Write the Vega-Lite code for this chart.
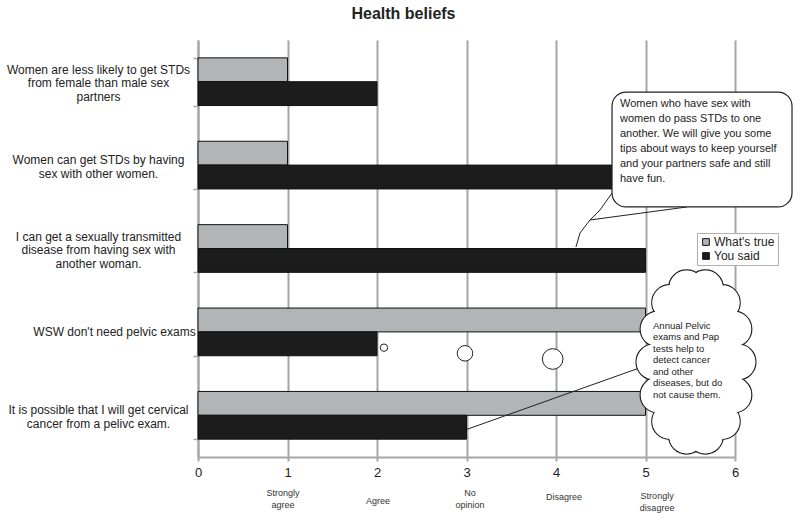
{
  "$schema": "https://vega.github.io/schema/vega-lite/v6.json",
  "width": 537,
  "height": 417,
  "autosize": {"type": "none"},
  "padding": {"left": 198, "top": 40, "right": 65, "bottom": 63},
  "title": {"text": "Health beliefs", "fontSize": 16, "font": "Liberation Sans", "fontWeight": "bold", "color": "#222", "anchor": "middle", "frame": "group", "dx": -63, "offset": 12},
  "config": {"view": {"stroke": null}, "font": "Liberation Sans"},
  "datasets": {
    "beliefs": [
      {"statement": "Women are less likely to get STDs\nfrom female than male sex\npartners", "series": "What's true", "value": 1},
      {"statement": "Women are less likely to get STDs\nfrom female than male sex\npartners", "series": "You said", "value": 2},
      {"statement": "Women can get STDs by having\nsex with other women.", "series": "What's true", "value": 1},
      {"statement": "Women can get STDs by having\nsex with other women.", "series": "You said", "value": 5},
      {"statement": "I can get a sexually transmitted\ndisease from having sex with\nanother woman.", "series": "What's true", "value": 1},
      {"statement": "I can get a sexually transmitted\ndisease from having sex with\nanother woman.", "series": "You said", "value": 5},
      {"statement": "WSW don't need pelvic exams", "series": "What's true", "value": 5},
      {"statement": "WSW don't need pelvic exams", "series": "You said", "value": 2},
      {"statement": "It is possible that I will get cervical\ncancer from a pelivc exam.", "series": "What's true", "value": 5},
      {"statement": "It is possible that I will get cervical\ncancer from a pelivc exam.", "series": "You said", "value": 3}
    ],
    "thought": [
      {"x": 2.078, "y": 1.311, "rank": 1},
      {"x": 2.983, "y": 1.243, "rank": 2},
      {"x": 3.963, "y": 1.175, "rank": 3}
    ],
    "pointer": [
      {"x": 3.006, "y": 0.332, "ord": 1},
      {"x": 4.994, "y": 1.091, "ord": 2}
    ],
    "lobes": [
      {"x": 6.033, "y": 1.139}, {"x": 5.987, "y": 1.534}, {"x": 5.857, "y": 1.851},
      {"x": 5.669, "y": 2.027}, {"x": 5.459, "y": 2.027}, {"x": 5.271, "y": 1.851},
      {"x": 5.141, "y": 1.534}, {"x": 5.095, "y": 1.139}, {"x": 5.141, "y": 0.744},
      {"x": 5.271, "y": 0.427}, {"x": 5.459, "y": 0.251}, {"x": 5.669, "y": 0.251},
      {"x": 5.857, "y": 0.427}, {"x": 5.987, "y": 0.744}
    ],
    "cloudCore": [{"x": 5.14, "x2": 5.989, "y": 1.93, "y2": 0.348}],
    "cloudText": [{"x": 5.084, "y": 1.631, "text": " Annual Pelvic\nexams and Pap\ntests help to\ndetect cancer\nand other\ndiseases, but do\nnot cause them."}],
    "tail": [
      {"part": "a", "ord": 1, "x": 4.626, "y": 3.165},
      {"part": "a", "ord": 2, "x": 4.492, "y": 2.962},
      {"part": "a", "ord": 3, "x": 4.38, "y": 2.842},
      {"part": "a", "ord": 4, "x": 5.464, "y": 2.998},
      {"part": "b", "ord": 1, "x": 4.38, "y": 2.842},
      {"part": "b", "ord": 2, "x": 4.268, "y": 2.686},
      {"part": "b", "ord": 3, "x": 4.223, "y": 2.518}
    ],
    "bubble": [{"x": 4.626, "x2": 6.637, "y": 4.376, "y2": 2.998}],
    "bubbleText": [{"x": 4.715, "y": 4.305, "text": " Women who have sex with\nwomen do pass STDs to one\nanother.   We will give you some\ntips about ways to keep yourself\nand your partners safe and still\nhave fun."}],
    "scaleLabels": [
      {"label": "Strongly\nagree", "x": 0.95, "y": -0.432},
      {"label": "Agree", "x": 2.01, "y": -0.528},
      {"label": "No\nopinion", "x": 3.04, "y": -0.432},
      {"label": "Disagree", "x": 4.09, "y": -0.48},
      {"label": "Strongly\ndisagree", "x": 5.13, "y": -0.47}
    ]
  },
  "layer": [
    {
      "data": {"name": "beliefs"},
      "mark": {"type": "bar", "stroke": "#111", "strokeWidth": 1},
      "encoding": {
        "y": {
          "field": "statement", "type": "nominal", "sort": null,
          "scale": {"paddingInner": 0.428, "paddingOuter": 0.214},
          "axis": {
            "title": null, "labelExpr": "split(datum.label, '\\n')", "labelAlign": "center",
            "labelPadding": {"condition": {"test": "indexof(datum.label, 'WSW') == 0", "value": 79}, "value": 95},
            "labelFontSize": 12, "labelColor": "#222", "labelLineHeight": 13.5,
            "labelOffset": {"condition": [
              {"test": "indexof(datum.label, '\\n') < 0", "value": 0},
              {"test": "length(split(datum.label, '\\n')) == 3", "value": -12.5}
            ], "value": -5.5},
            "tickBand": "extent", "tickSize": 5, "tickColor": "#a6a6a6", "tickWidth": 1.5,
            "domainColor": "#a6a6a6", "domainWidth": 2, "grid": false, "labelLimit": 0
          }
        },
        "yOffset": {"field": "series", "type": "nominal", "sort": ["What's true", "You said"]},
        "x": {
          "field": "value", "type": "quantitative",
          "scale": {"domain": [0, 6], "nice": false},
          "axis": {
            "title": null, "values": [0, 1, 2, 3, 4, 5, 6], "grid": true, "gridColor": "#a6a6a6", "gridWidth": 2,
            "domainColor": "#a6a6a6", "domainWidth": 2, "tickColor": "#a6a6a6", "tickWidth": 2, "tickSize": 4,
            "labelFontSize": 13, "labelColor": "#222", "labelPadding": 5, "labelFlush": false
          }
        },
        "color": {
          "field": "series", "type": "nominal",
          "scale": {"domain": ["What's true", "You said"], "range": ["#b3b4b6", "#1c1c1c"]},
          "legend": {
            "orient": "none", "legendX": 499, "legendY": 193, "title": null,
            "symbolType": "square", "symbolSize": 45, "symbolStrokeColor": "#111", "symbolStrokeWidth": 1,
            "labelFontSize": 12, "labelColor": "#222", "strokeColor": "#b0b0b0", "fillColor": "white",
            "padding": 3, "rowPadding": 2, "labelOffset": 2
          }
        }
      }
    },
    {
      "data": {"name": "thought"},
      "mark": {"type": "point", "shape": "circle", "filled": true, "fill": "white", "stroke": "#222", "strokeWidth": 1, "opacity": 1},
      "encoding": {
        "x": {"field": "x", "type": "quantitative", "scale": {"domain": [0, 6], "nice": false}, "axis": null},
        "y": {"field": "y", "type": "quantitative", "scale": {"domain": [0, 5], "nice": false, "zero": false}, "axis": null},
        "size": {"field": "rank", "type": "quantitative", "scale": {"domain": [1, 3], "range": [55, 427]}, "legend": null}
      }
    },
    {
      "data": {"name": "pointer"},
      "mark": {"type": "line", "color": "#222", "strokeWidth": 1},
      "encoding": {
        "x": {"field": "x", "type": "quantitative", "scale": {"domain": [0, 6], "nice": false}, "axis": null},
        "y": {"field": "y", "type": "quantitative", "scale": {"domain": [0, 5], "nice": false, "zero": false}, "axis": null},
        "order": {"field": "ord"}
      }
    },
    {
      "data": {"name": "lobes"},
      "mark": {"type": "point", "shape": "circle", "filled": true, "fill": "white", "stroke": "#222", "strokeWidth": 1.2, "size": 1296, "opacity": 1},
      "encoding": {
        "x": {"field": "x", "type": "quantitative", "scale": {"domain": [0, 6], "nice": false}, "axis": null},
        "y": {"field": "y", "type": "quantitative", "scale": {"domain": [0, 5], "nice": false, "zero": false}, "axis": null}
      }
    },
    {
      "data": {"name": "lobes"},
      "mark": {"type": "point", "shape": "circle", "filled": true, "fill": "white", "strokeWidth": 0, "size": 1190, "opacity": 1},
      "encoding": {
        "x": {"field": "x", "type": "quantitative", "scale": {"domain": [0, 6], "nice": false}, "axis": null},
        "y": {"field": "y", "type": "quantitative", "scale": {"domain": [0, 5], "nice": false, "zero": false}, "axis": null}
      }
    },
    {
      "data": {"name": "cloudCore"},
      "mark": {"type": "rect", "fill": "white"},
      "encoding": {
        "x": {"field": "x", "type": "quantitative", "scale": {"domain": [0, 6], "nice": false}, "axis": null},
        "x2": {"field": "x2"},
        "y": {"field": "y", "type": "quantitative", "scale": {"domain": [0, 5], "nice": false, "zero": false}, "axis": null},
        "y2": {"field": "y2"}
      }
    },
    {
      "data": {"name": "cloudText"},
      "mark": {"type": "text", "align": "left", "baseline": "top", "lineBreak": "\n", "fontSize": 9.5, "lineHeight": 11.5, "color": "#222", "font": "Liberation Sans"},
      "encoding": {
        "x": {"field": "x", "type": "quantitative", "scale": {"domain": [0, 6], "nice": false}, "axis": null},
        "y": {"field": "y", "type": "quantitative", "scale": {"domain": [0, 5], "nice": false, "zero": false}, "axis": null},
        "text": {"field": "text"}
      }
    },
    {
      "data": {"name": "tail"},
      "mark": {"type": "line", "color": "#222", "strokeWidth": 1},
      "encoding": {
        "x": {"field": "x", "type": "quantitative", "scale": {"domain": [0, 6], "nice": false}, "axis": null},
        "y": {"field": "y", "type": "quantitative", "scale": {"domain": [0, 5], "nice": false, "zero": false}, "axis": null},
        "detail": {"field": "part"},
        "order": {"field": "ord"}
      }
    },
    {
      "data": {"name": "bubble"},
      "mark": {"type": "rect", "fill": "white", "stroke": "#222", "strokeWidth": 1.2, "cornerRadius": 14},
      "encoding": {
        "x": {"field": "x", "type": "quantitative", "scale": {"domain": [0, 6], "nice": false}, "axis": null},
        "x2": {"field": "x2"},
        "y": {"field": "y", "type": "quantitative", "scale": {"domain": [0, 5], "nice": false, "zero": false}, "axis": null},
        "y2": {"field": "y2"}
      }
    },
    {
      "data": {"name": "bubbleText"},
      "mark": {"type": "text", "align": "left", "baseline": "top", "lineBreak": "\n", "fontSize": 11, "lineHeight": 15, "color": "#222", "font": "Liberation Sans"},
      "encoding": {
        "x": {"field": "x", "type": "quantitative", "scale": {"domain": [0, 6], "nice": false}, "axis": null},
        "y": {"field": "y", "type": "quantitative", "scale": {"domain": [0, 5], "nice": false, "zero": false}, "axis": null},
        "text": {"field": "text"}
      }
    },
    {
      "data": {"name": "scaleLabels"},
      "mark": {"type": "text", "align": "center", "baseline": "middle", "lineBreak": "\n", "fontSize": 9, "lineHeight": 12, "color": "#333", "font": "Liberation Sans"},
      "encoding": {
        "x": {"field": "x", "type": "quantitative", "scale": {"domain": [0, 6], "nice": false}, "axis": null},
        "y": {"field": "y", "type": "quantitative", "scale": {"domain": [0, 5], "nice": false, "zero": false}, "axis": null},
        "text": {"field": "label"}
      }
    }
  ],
  "resolve": {"scale": {"y": "independent"}, "axis": {"x": "independent"}}
}
